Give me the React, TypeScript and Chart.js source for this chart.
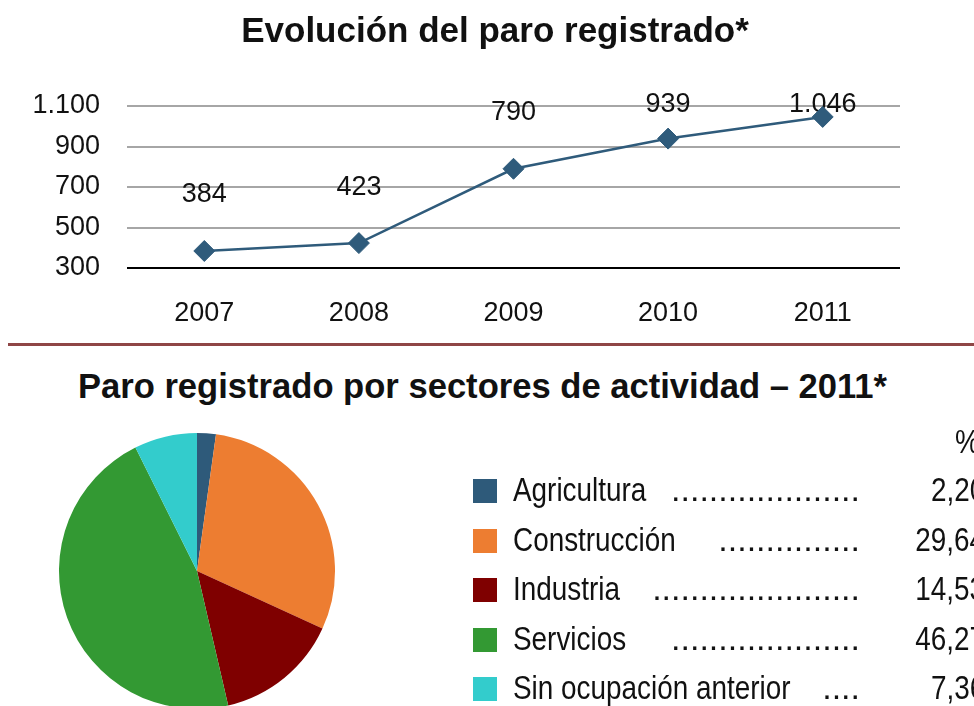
import React, { useEffect, useRef } from "react";
import { Chart, registerables } from "chart.js";

Chart.register(...registerables);

// ---------- data ----------
const years = ["2007", "2008", "2009", "2010", "2011"];
const paroMiles = [384, 423, 790, 939, 1046];
const yTickValues = [300, 500, 700, 900, 1100];

const sectors = ["Agricultura", "Construcción", "Industria", "Servicios", "Sin ocupación anterior"];
const sectorPct = [2.2, 29.64, 14.53, 46.27, 7.36];
const sectorColors = ["#2E5A7A", "#ED7D31", "#7F0000", "#339933", "#33CCCC"];
const leaderDots = [20, 15, 22, 20, 4];

const title1 = "Evolución del paro registrado*";
const title2 = "Paro registrado por sectores de actividad – 2011*";

// ---------- helpers ----------
const FONT = "'Liberation Sans', Arial, sans-serif";
const NARROW_SCALE = 0.82;
const fmtThousands = (v: number) => String(Math.round(v)).replace(/\B(?=(\d{3})+(?!\d))/g, ".");
const fmtPct = (v: number) => v.toFixed(2).replace(".", ",");

const pointLabelPlugin = {
  id: "pointLabels",
  beforeDatasetsDraw(chart: any) {
    const { ctx, chartArea } = chart;
    const meta = chart.getDatasetMeta(0);
    ctx.save();
    ctx.font = `27px ${FONT}`;
    ctx.fillStyle = "#111";
    ctx.textAlign = "center";
    ctx.textBaseline = "middle";
    meta.data.forEach((pt: any, i: number) => {
      const y = Math.max(pt.y - 56, chartArea.top - 1);
      ctx.fillText(fmtThousands(paroMiles[i]), pt.x, y);
    });
    ctx.restore();
  },
};

function LineChart() {
  const ref = useRef<HTMLCanvasElement>(null);
  useEffect(() => {
    const chart = new Chart(ref.current!, {
      type: "line",
      data: {
        labels: years,
        datasets: [
          {
            data: paroMiles,
            borderColor: "#2F5B7B",
            backgroundColor: "#2F5B7B",
            borderWidth: 2.5,
            pointStyle: "rectRot",
            pointRadius: 10.5,
            pointBorderWidth: 1,
            pointBackgroundColor: "#2F5B7B",
            pointBorderColor: "#2F5B7B",
            tension: 0,
          },
        ],
      },
      options: {
        animation: false,
        responsive: false,
        events: [],
        layout: { padding: { top: 106, right: 74, left: 0, bottom: 0 } },
        plugins: { legend: { display: false }, tooltip: { enabled: false } },
        scales: {
          x: {
            type: "category",
            offset: true,
            grid: { display: false, drawTicks: false },
            border: { display: false },
            ticks: {
              color: "#111",
              font: { family: FONT, size: 27 },
              padding: 29,
              maxRotation: 0,
              autoSkip: false,
            },
            afterFit(scale: any) {
              scale.height = 72;
            },
          },
          y: {
            min: 300,
            max: 1100,
            afterBuildTicks(scale: any) {
              scale.ticks = yTickValues.map((v) => ({ value: v }));
            },
            grid: {
              color: (c: any) => (c.tick && c.tick.value === 300 ? "#000" : "#A6A6A6"),
              lineWidth: 2,
              drawTicks: false,
            },
            border: { display: false },
            ticks: {
              color: "#111",
              font: { family: FONT, size: 27 },
              padding: 27,
              callback: (v: any) => fmtThousands(Number(v)),
            },
            afterFit(scale: any) {
              scale.width = 127;
            },
          },
        },
      },
      plugins: [pointLabelPlugin],
    } as any);
    return () => chart.destroy();
  }, []);
  return (
    <canvas
      ref={ref}
      width={974}
      height={340}
      style={{ position: "absolute", left: 0, top: 0, width: 974, height: 340 }}
    />
  );
}

function PieChart() {
  const ref = useRef<HTMLCanvasElement>(null);
  useEffect(() => {
    const chart = new Chart(ref.current!, {
      type: "pie",
      data: {
        labels: sectors,
        datasets: [
          {
            data: sectorPct,
            backgroundColor: sectorColors,
            borderWidth: 0,
            hoverOffset: 0,
            radius: 138,
          },
        ],
      },
      options: {
        animation: false,
        responsive: false,
        events: [],
        layout: { padding: 0 },
        plugins: { legend: { display: false }, tooltip: { enabled: false } },
      },
    } as any);
    return () => chart.destroy();
  }, []);
  return (
    <canvas
      ref={ref}
      width={290}
      height={290}
      style={{ position: "absolute", left: 52, top: 426, width: 290, height: 290 }}
    />
  );
}

const narrowLeft: React.CSSProperties = {
  position: "absolute",
  top: 0,
  transform: `scaleX(${NARROW_SCALE})`,
  transformOrigin: "left center",
};
const narrowRight: React.CSSProperties = {
  position: "absolute",
  top: 0,
  transform: `scaleX(${NARROW_SCALE})`,
  transformOrigin: "right center",
};

export default function App() {
  return (
    <div
      style={{
        position: "fixed",
        left: 0,
        top: 0,
        width: 974,
        height: 706,
        overflow: "hidden",
        background: "#fff",
        fontFamily: FONT,
        color: "#111",
      }}
    >
      <LineChart />
      <div
        style={{
          position: "absolute",
          left: 0,
          top: 12.4,
          width: 990,
          textAlign: "center",
          fontWeight: "bold",
          fontSize: 35,
          lineHeight: "35px",
          whiteSpace: "nowrap",
        }}
      >
        {title1}
      </div>
      <div
        style={{
          position: "absolute",
          left: 8,
          top: 342.5,
          width: 966,
          height: 3,
          background: "#8F4646",
        }}
      />
      <div
        style={{
          position: "absolute",
          left: 0,
          top: 368.7,
          width: 965,
          textAlign: "center",
          fontWeight: "bold",
          fontSize: 34.6,
          lineHeight: "34.6px",
          whiteSpace: "nowrap",
        }}
      >
        {title2}
      </div>
      <PieChart />
      <div
        style={{
          position: "absolute",
          left: 0,
          top: 424,
          width: 974,
          height: 34,
          fontSize: 34,
          lineHeight: "34px",
          whiteSpace: "nowrap",
        }}
      >
        <span style={{ ...narrowLeft, left: 955 }}>%</span>
      </div>
      {sectors.map((s, i) => (
        <div
          key={s}
          style={{
            position: "absolute",
            left: 0,
            top: 472 + i * 49.5,
            width: 974,
            height: 34,
            fontSize: 34,
            lineHeight: "34px",
            whiteSpace: "nowrap",
          }}
        >
          <div
            style={{
              position: "absolute",
              left: 473,
              top: 7,
              width: 24,
              height: 24,
              background: sectorColors[i],
            }}
          />
          <span style={{ ...narrowLeft, left: 513 }}>{s}</span>
          <span style={{ position: "absolute", right: 114, top: 0 }}>{".".repeat(leaderDots[i])}</span>
          <span style={{ ...narrowRight, right: -11 }}>{fmtPct(sectorPct[i])}</span>
        </div>
      ))}
    </div>
  );
}
